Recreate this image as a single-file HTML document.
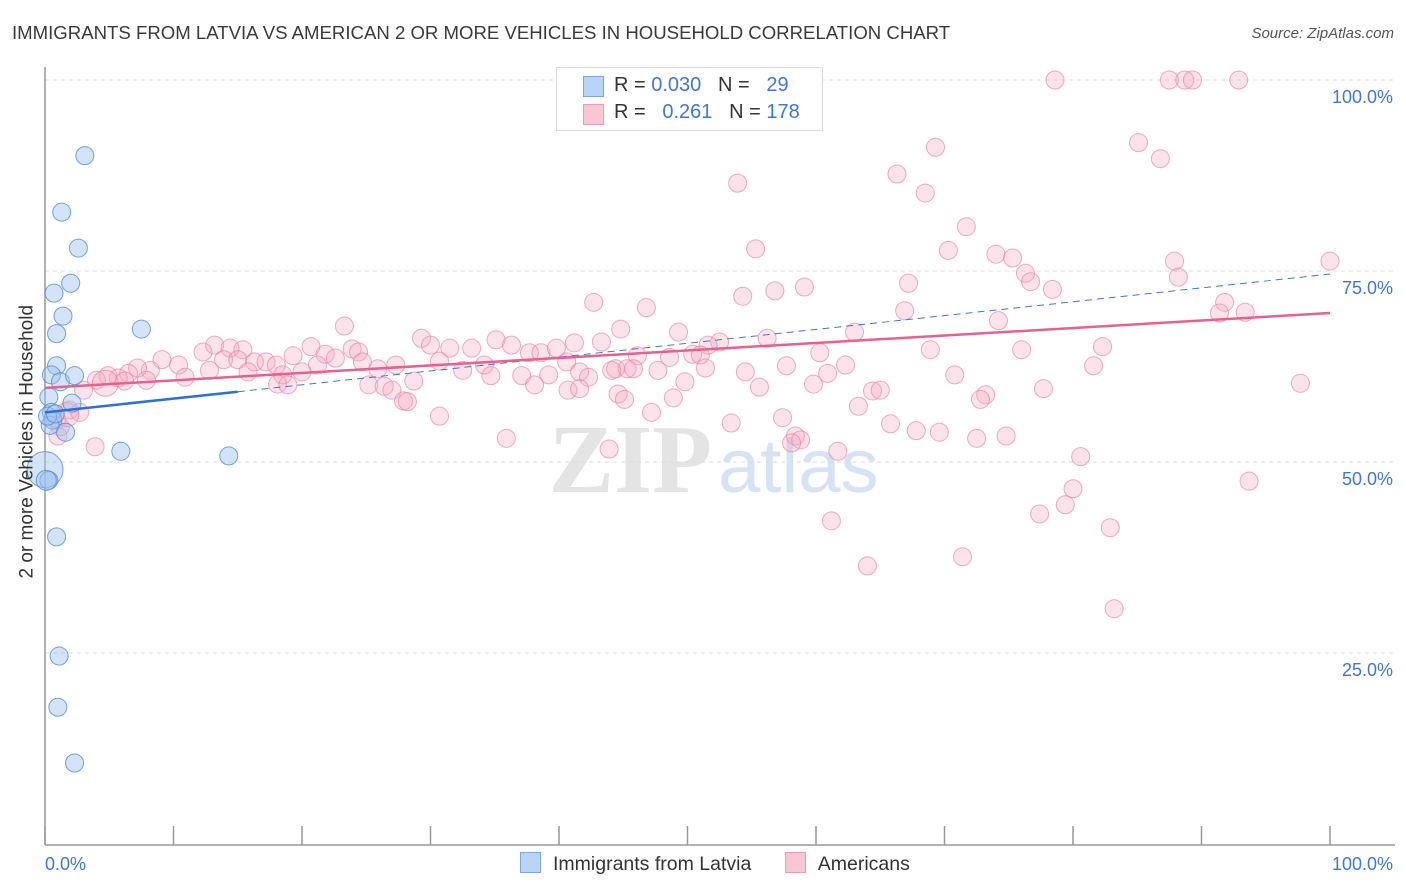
<!DOCTYPE html>
<html><head><meta charset="utf-8">
<style>
body{margin:0;background:#fff;font-family:"Liberation Sans",sans-serif;}
#wrap{position:relative;width:1406px;height:892px;overflow:hidden;}
.t{position:absolute;white-space:nowrap;}
</style></head>
<body>
<div id="wrap">
<div class="t" style="left:12px;top:22px;font-size:18.6px;color:#3a3a3a;">IMMIGRANTS FROM LATVIA VS AMERICAN 2 OR MORE VEHICLES IN HOUSEHOLD CORRELATION CHART</div>
<div class="t" style="right:12px;top:25px;font-size:15px;color:#555;font-style:italic;">Source: ZipAtlas.com</div>
<svg id="svg" width="1406" height="892" style="position:absolute;left:0;top:0">
<text x="712" y="492" font-size="98" font-family="Liberation Serif" fill="#e4e4e4" text-anchor="end" font-weight="bold">ZIP</text>
<text x="718" y="492" font-size="76" font-family="Liberation Sans" fill="#d5e3f5">atlas</text>
</svg>
<div class="t" style="left:-95px;top:445px;font-size:19px;color:#333;transform:rotate(-90deg);width:245px;text-align:center;">2 or more Vehicles in Household</div>
<div style="position:absolute;left:556px;top:67px;width:265px;height:62px;border:1px solid #ddd;background:#fff;font-size:20px;">
  <div style="position:absolute;left:26px;top:8px;width:19px;height:19px;background:#b8d4f6;border:1px solid #7aa7e4;"></div>
  <div class="t" style="left:57px;top:6px;color:#333;">R = <span style="color:#3f78d3">0.030</span>&nbsp;&nbsp;&nbsp;N = &nbsp;&nbsp;<span style="color:#3f78d3">29</span></div>
  <div style="position:absolute;left:26px;top:36px;width:19px;height:19px;background:#f9c6d5;border:1px solid #ec9cb6;"></div>
  <div class="t" style="left:57px;top:33px;color:#333;">R = &nbsp;&nbsp;<span style="color:#3f78d3">0.261</span>&nbsp;&nbsp;&nbsp;N = <span style="color:#3f78d3">178</span></div>
</div>
<div style="position:absolute;left:520px;top:852px;font-size:19.5px;color:#333;">
  <span style="display:inline-block;"><span style="display:inline-block;width:19px;height:19px;background:#b8d4f6;border:1px solid #7aa7e4;vertical-align:-3px;margin-right:12px;"></span>Immigrants from Latvia</span>
  <span style="display:inline-block;margin-left:28px;"><span style="display:inline-block;width:19px;height:19px;background:#f9c6d5;border:1px solid #ec9cb6;vertical-align:-3px;margin-right:12px;"></span>Americans</span>
</div>
</div>
<script>
const yTicks=[25,50,75,100];
const yTickLabels=["25.0%","50.0%","75.0%","100.0%"];
const xTickLabels=["0.0%","100.0%"];
const blueX=[3.1,1.3,2.6,2.0,0.7,1.4,0.9,7.5,0.9,0.5,1.2,2.3,0.3,2.1,0.5,0.6,0.4,1.6,5.9,14.3,0,0.3,0.9,1.1,1.0,2.3,0.2,0.8,0.1];
const blueY=[90.1,82.7,78.0,73.4,72.1,69.1,66.8,67.4,62.6,61.4,60.5,61.3,58.5,57.7,56.5,55.5,54.8,53.9,51.4,50.8,49.0,47.6,40.2,24.6,17.9,10.6,56.0,56.3,47.6];
const blueR=[9,9,9,9,9,9,9,9,9,9,9,9,9,9,9,9,9,9,9,9,18,9,9,9,9,9,9,9,10];
const pinkX=[78.6,87.5,88.7,89.3,92.9,85.1,86.8,69.3,53.9,66.3,68.5,71.7,55.3,70.3,74.0,75.3,87.9,100,76.3,76.7,88.2,78.4,67.2,54.3,56.8,59.1,42.7,46.8,66.9,91.8,93.4,91.4,74.2,23.3,44.8,49.3,56.2,63.0,52.5,51.6,35.1,29.3,30.0,31.5,33.2,41.2,43.3,36.3,13.2,14.4,15.4,20.7,23.9,24.4,12.3,19.3,21.8,48.6,46.1,50.4,51.0,60.3,68.9,76.0,82.3,9.1,10.4,13.9,15.0,16.3,17.2,18.0,21.2,22.6,24.7,27.3,25.9,30.7,34.2,37.7,38.6,39.8,40.6,44.4,45.3,45.8,47.7,51.4,62.3,81.6,70.8,8.2,7.2,6.5,5.7,4.9,4.0,4.7,6.2,7.9,10.9,12.8,15.8,18.5,20.0,18.1,18.9,25.2,26.4,28.7,32.5,34.7,37.1,39.2,41.6,42.3,44.1,49.8,54.5,55.6,57.7,59.8,60.9,64.4,65.0,97.7,77.7,73.2,72.8,40.7,27.0,27.9,28.2,41.6,38.1,44.6,48.9,45.1,30.7,47.2,53.4,57.4,63.3,65.8,67.8,69.6,72.5,74.8,58.4,58.8,58.1,61.7,35.9,43.9,80.6,80.0,79.4,77.4,82.9,93.7,61.2,64.0,71.4,83.2,3.0,1.9,0.9,1.2,1.0,3.9,2.7,1.7];
const pinkY=[100,100,100,100,100,91.8,89.7,91.2,86.5,87.7,85.2,80.8,77.9,77.7,77.2,76.7,76.3,76.3,74.7,73.6,74.2,72.6,73.4,71.7,72.4,72.9,70.9,70.2,69.8,70.9,69.6,69.5,68.5,67.8,67.4,67.0,66.2,67.0,65.7,65.3,66.0,66.2,65.3,64.9,64.9,65.6,65.7,65.3,65.3,64.9,64.7,65.1,64.8,64.4,64.4,63.9,64.1,63.7,63.9,64.1,64.0,64.3,64.7,64.7,65.1,63.4,62.7,63.4,63.4,63.1,63.1,62.7,62.7,63.6,63.1,62.7,62.2,63.2,62.7,64.3,64.3,64.9,63.1,62.2,62.2,62.2,62.0,62.3,62.7,62.6,61.4,62.0,62.3,61.6,61.0,61.3,60.7,60.3,60.6,60.7,61.1,62.0,61.8,61.4,61.8,60.2,60.1,60.1,59.9,60.6,62.0,61.3,61.3,61.4,61.8,61.1,62.0,60.5,61.8,59.8,62.6,60.2,61.6,59.3,59.4,60.3,59.6,58.8,58.2,59.4,59.4,58.0,57.9,59.6,60.1,58.9,58.4,58.2,56.0,56.5,55.1,55.8,57.3,55.0,54.1,53.9,53.1,53.4,53.4,52.9,52.5,51.4,53.1,51.7,50.7,46.5,44.4,43.2,41.4,47.5,42.3,36.4,37.6,30.8,59.4,56.8,55.5,54.6,53.4,52.0,56.5,56.2];
const pinkBig={97:13,177:15,178:14,171:12};
const blueLine=[56.5,59.2,74.6];
const blueSolidEnd=15;
const pinkLine=[59.7,69.5];
const NS='http://www.w3.org/2000/svg';
const svg=document.getElementById('svg');
const X0=45,X1=1330,Y100=80,Y0=844;
function sx(v){return X0+(X1-X0)*v/100;}
function sy(v){return Y0-(Y0-Y100)*v/100;}
function mk(tag,attrs){const e=document.createElementNS(NS,tag);for(const k in attrs)e.setAttribute(k,attrs[k]);svg.appendChild(e);return e;}
yTicks.forEach((t,i)=>{
  const g=mk('line',{x1:X0,x2:1395,y1:sy(t),y2:sy(t),stroke:'#dcdcdc','stroke-dasharray':'4,4'});
  
  
  const tx=mk('text',{x:1393,y:sy(t)+23,'text-anchor':'end','font-size':18,fill:'#3f78d3','font-family':'Liberation Sans'});
  tx.textContent=yTickLabels[i];
  
  
});
let ax=mk('line',{x1:X0,x2:X0,y1:67,y2:845,stroke:'#999','stroke-width':1.5});


ax=mk('line',{x1:X0,x2:1395,y1:845,y2:845,stroke:'#999','stroke-width':1.5});


for(let k=0;k<=10;k++){
  const tk=mk('line',{x1:sx(k*10),x2:sx(k*10),y1:826,y2:845,stroke:'#999','stroke-width':1.5});
  
  
}
let xl=mk('text',{x:45,y:870,'font-size':18,fill:'#3f78d3','font-family':'Liberation Sans'});
xl.textContent=xTickLabels[0];


xl=mk('text',{x:1393,y:870,'text-anchor':'end','font-size':18,fill:'#3f78d3','font-family':'Liberation Sans'});
xl.textContent=xTickLabels[1];


pinkX.forEach((v,i)=>{
  const c=mk('circle',{cx:sx(v),cy:sy(pinkY[i]),r:pinkBig[i]||9,fill:'rgba(246,168,192,0.32)',stroke:'rgba(232,128,162,0.65)','stroke-width':1});
  
  
});
blueX.forEach((v,i)=>{
  const c=mk('circle',{cx:sx(v),cy:sy(blueY[i]),r:blueR[i],fill:'rgba(160,196,240,0.45)',stroke:'rgba(80,140,220,0.8)','stroke-width':1});
  
  
});
let l=mk('line',{x1:sx(blueSolidEnd),y1:sy(blueLine[1]),x2:sx(100),y2:sy(blueLine[2]),stroke:'#3f78d3','stroke-width':1,'stroke-dasharray':'7,5'});


l=mk('line',{x1:sx(0),y1:sy(pinkLine[0]),x2:sx(100),y2:sy(pinkLine[1]),stroke:'#e8608e','stroke-width':2.5});


l=mk('line',{x1:sx(0),y1:sy(blueLine[0]),x2:sx(blueSolidEnd),y2:sy(blueLine[1]),stroke:'#2f6fd6','stroke-width':2.5});


</script>
</body></html>
